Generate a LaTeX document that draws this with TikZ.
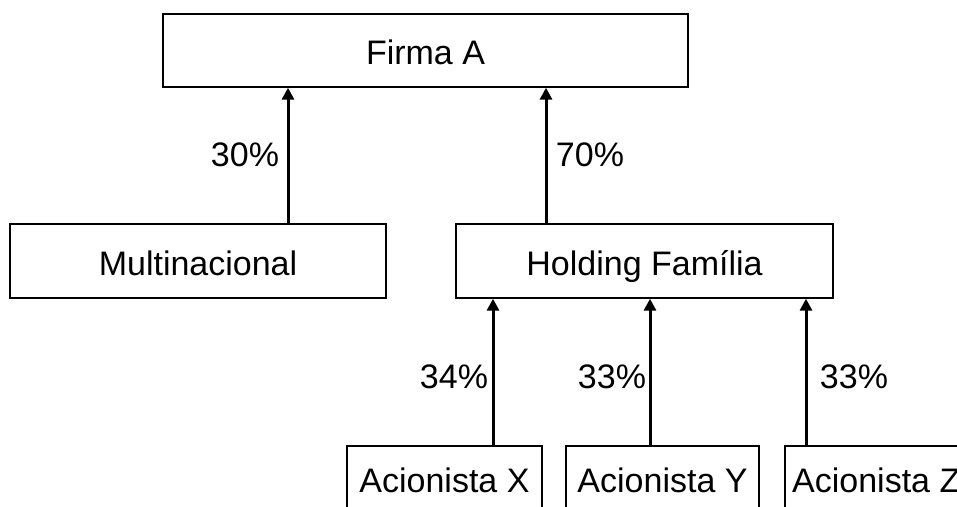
\documentclass[tikz,border=0pt]{standalone}
\usepackage{fontspec}
\setmainfont{Liberation Sans}
\usetikzlibrary{arrows.meta}
\begin{document}
\begin{tikzpicture}[x=1pt,y=-1pt,
  box/.style={draw=black,line width=1.4pt,rectangle,inner sep=0pt,
    text height=28pt,text depth=0pt,
    font=\fontsize{34}{40}\selectfont},
  pct/.style={inner sep=0pt,text height=24.4pt,text depth=0pt,
    font=\fontsize{34}{40}\selectfont},
  arr/.style={line width=3pt,-{Triangle[length=12pt,width=12pt]}}]
\useasboundingbox (0,0) rectangle (957,506);
\clip (0,0) rectangle (957,506);
\fill[white] (0,0) rectangle (957,506);
\node[box,minimum width=525pt,minimum height=73pt] (firma) at (425.5,50.5) {Firma A};
\node[box,minimum width=376pt,minimum height=74pt] (multi) at (198,261) {Multinacional};
\node[box,minimum width=377pt,minimum height=74pt] (hold) at (644.5,261) {Holding Família};
\node[box,minimum width=195pt,minimum height=84pt] (ax) at (444.5,488) {};
\node[box,minimum width=193pt,minimum height=84pt] (ay) at (662.5,488) {};
\node[box,minimum width=192pt,minimum height=84pt] (az) at (881,488) {};
\node[pct] (tx) at (444.5,480) {Acionista X};
\node[pct] (ty) at (662.5,480) {Acionista Y};
\node[pct,anchor=west] (tz) at (792,480) {Acionista Z};
\coordinate (c1) at (288,0);
\coordinate (c2) at (546,0);
\coordinate (c3) at (493,0);
\coordinate (c4) at (650,0);
\coordinate (c5) at (806,0);
\draw[arr] (multi.north -| c1) -- (firma.south -| c1);
\draw[arr] (hold.north -| c2) -- (firma.south -| c2);
\draw[arr] (ax.north -| c3) -- (hold.south -| c3);
\draw[arr] (ay.north -| c4) -- (hold.south -| c4);
\draw[arr] (az.north -| c5) -- (hold.south -| c5);
\node[pct] (p30) at (245,154) {30\%};
\node[pct] (p70) at (590,154) {70\%};
\node[pct] (p34) at (454,376) {34\%};
\node[pct] (p33a) at (612,376) {33\%};
\node[pct] (p33b) at (854,376) {33\%};
\end{tikzpicture}
\end{document}
